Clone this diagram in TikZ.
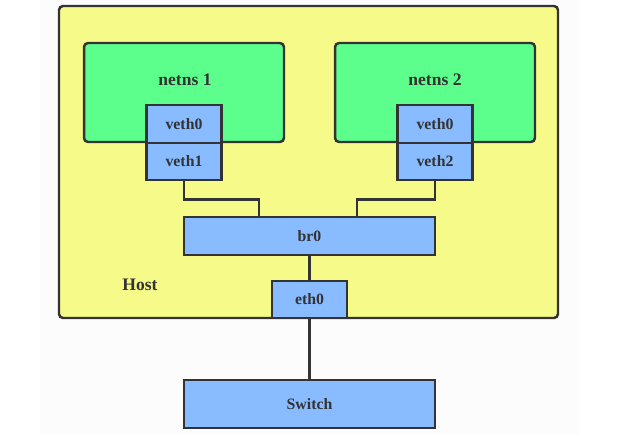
\documentclass[tikz,border=0pt]{standalone}
\usepackage{fontspec}
\setmainfont{Liberation Serif}
\usepackage{tikz}

\definecolor{hostyellow}{HTML}{F5FA88}
\definecolor{nsgreen}{HTML}{5CFF8C}
\definecolor{ifblue}{HTML}{88BBFF}
\definecolor{edgegray}{HTML}{333333}

\begin{document}
\begin{tikzpicture}[x=0.02cm,y=-0.02cm]
				\tikzstyle{every node}=[font=\bfseries\small,text=edgegray]
				\tikzstyle{iface}=[draw=edgegray,fill=ifblue,line width=1.4pt,minimum width=1.5cm,minimum height=0.75cm,inner sep=0pt]
				\tikzstyle{netns}=[draw=edgegray,fill=nsgreen,line width=1.4pt,rounded corners=2.3pt,minimum width=4cm,minimum height=1.98cm,inner sep=0pt]
				\tikzstyle{wire}=[draw=edgegray,line width=1.4pt]
				\useasboundingbox (0,0) rectangle (642,438);
				\fill[white!98!gray] (40,0) rectangle (580,434);
				% host
				\draw[edgegray,fill=hostyellow,line width=1.4pt,rounded corners=2.3pt] (59,6) rectangle (558,318);
				\node[font=\bfseries] (host) at (140,285) {Host};
				% namespaces
				\node[netns] (ns1) at (184,92.5) {};
				\node[font=\bfseries] at (185,80) {netns 1};
				\node[netns] (ns2) at (435,92.5) {};
				\node[font=\bfseries] at (435,80) {netns 2};
				\node[iface] (veth0a) at (184,124) {veth0};
				\node[iface] (veth1) at (184,161.5) {veth1};
				\node[iface] (veth0b) at (435,124) {veth0};
				\node[iface] (veth2) at (435,161.5) {veth2};
				% bridge, eth0, switch
				\node[iface,minimum width=5.02cm] (br0) at (309.5,236) {br0};
				\node[iface] (eth0) at (309.5,299.5) {eth0};
				\node[iface,minimum width=5.02cm,minimum height=0.96cm] (switch) at (309.5,404) {Switch};
				\coordinate (b1) at (259,217);
				\coordinate (b2) at (357,217);
				\draw[wire] (veth1.south) -- ++(0,18) -| (b1);
				\draw[wire] (veth2.south) -- ++(0,18) -| (b2);
				\draw[wire] (br0) -- (eth0);
				\draw[wire] (eth0) -- (switch);
			\end{tikzpicture}
\end{document}
